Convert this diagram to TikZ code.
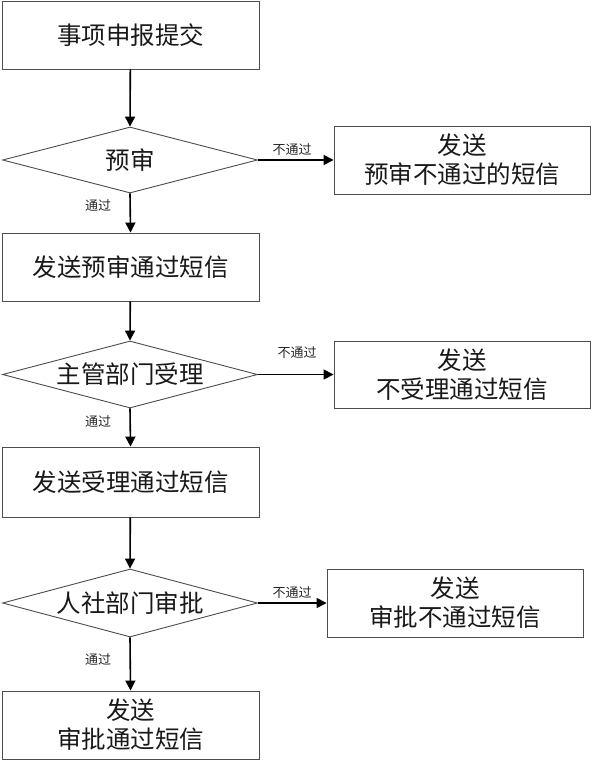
\documentclass[tikz,border=0pt]{standalone}
\usepackage{fontspec}
\setmainfont{Noto Sans CJK SC}
\usetikzlibrary{shapes.geometric,arrows.meta}
\begin{document}
\begin{tikzpicture}[x=1pt,y=-1pt,
  box/.style={draw=black!70,line width=0.9pt,rectangle,minimum width=#1,inner sep=0pt,align=center,font=\fontsize{24.5}{29}\selectfont,text=black!90},
  dec/.style={draw=black!70,line width=0.9pt,diamond,inner sep=0pt,minimum width=255pt,aspect=3.8,font=\fontsize{24.5}{29}\selectfont,text=black!90},
  conn/.style={-{Triangle[length=10pt,width=10pt]},line width=1.6pt,black},
  lbl/.style={font=\fontsize{13}{15}\selectfont,text=black!85,inner sep=0pt}]
\useasboundingbox (0,0) rectangle (592,766);
\node[box=257pt,minimum height=68pt] (b1) at (130.5,35) {事项申报提交};
\node[dec,minimum height=66pt] (d1) at (130,160) {预审};
\node[box=256pt,minimum height=68pt] (r1) at (462,160) {发送\\预审不通过的短信};
\node[box=257pt,minimum height=68pt] (b2) at (130.5,267) {发送预审通过短信};
\node[dec,minimum height=67pt] (d2) at (130,374.5) {主管部门受理};
\node[box=256pt,minimum height=67pt] (r2) at (462,374.5) {发送\\不受理通过短信};
\node[box=257pt,minimum height=70pt] (b3) at (130.5,482) {发送受理通过短信};
\node[dec,minimum height=68pt] (d3) at (130,603) {人社部门审批};
\node[box=256pt,minimum height=68pt] (r3) at (455,603) {发送\\审批不通过短信};
\node[box=257pt,minimum height=68pt] (b4) at (130.5,725) {发送\\审批通过短信};
\draw[conn] (b1) -- (d1.north);
\draw[conn] (d1.south) -- (b2.north);
\draw[conn] (b2) -- (d2.north);
\draw[conn] (d2.south) -- (b3.north);
\draw[conn] (b3) -- (d3.north);
\draw[conn] (d3.south) -- (b4.north);
\draw[conn] (d1.east) -- (r1.west);
\draw[conn] (d2.east) -- (r2.west);
\draw[conn] (d3.east) -- (r3.west);
\node[lbl] (l1) at (98,206) {通过};
\node[lbl] (l2) at (98,422) {通过};
\node[lbl] (l3) at (98,660) {通过};
\node[lbl] (n1) at (292,150) {不通过};
\node[lbl] (n2) at (297,353) {不通过};
\node[lbl] (n3) at (292,593) {不通过};
\end{tikzpicture}
\end{document}
